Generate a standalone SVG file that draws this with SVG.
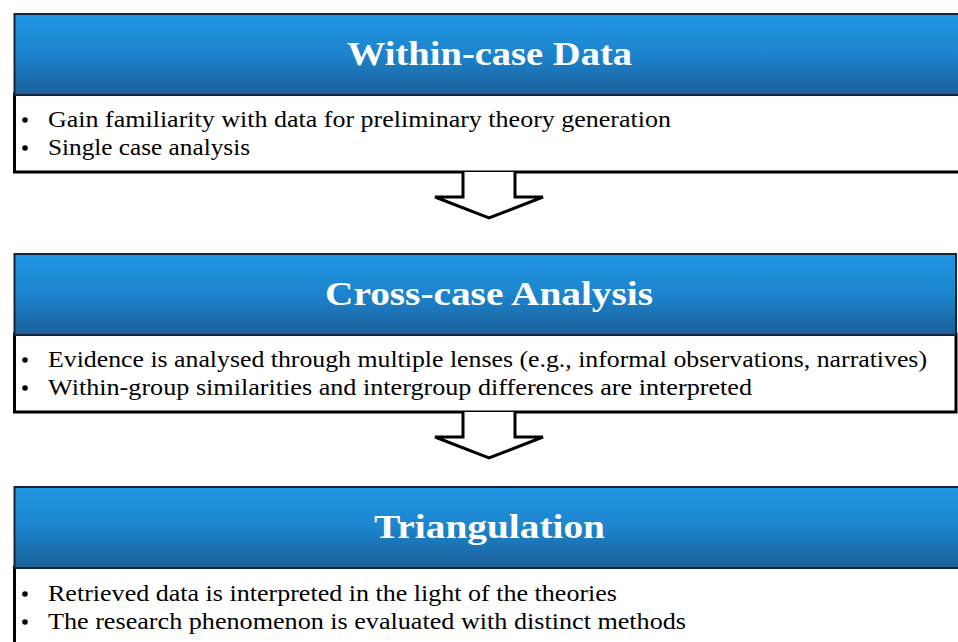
<svg xmlns="http://www.w3.org/2000/svg" width="958" height="642" viewBox="0 0 958 642">
<defs>
<linearGradient id="hdr" x1="0" y1="0" x2="0" y2="1">
<stop offset="0" stop-color="#2196e4"/>
<stop offset="0.5" stop-color="#1c84cc"/>
<stop offset="1" stop-color="#1a5f98"/>
</linearGradient>
<style>
.body{fill:#ffffff;stroke:#000000;stroke-width:3}
.head{fill:url(#hdr);stroke:#14243a;stroke-width:2}
.title{font-family:"Liberation Serif","DejaVu Serif",serif;font-weight:bold;font-size:33px;fill:#ffffff;text-anchor:middle}
.item{font-family:"Liberation Serif","DejaVu Serif",serif;font-size:22.5px;fill:#000000}
.bullet{fill:#000000}
.arrow{fill:#ffffff;stroke:#000000;stroke-width:3;stroke-linejoin:miter}
</style>
</defs>
<rect width="958" height="642" fill="#ffffff"/>
<g id="within-case-data">
<rect class="body" x="14.5" y="94" width="960" height="78"/>
<rect class="head" x="14.5" y="14" width="960" height="81"/>
<text class="title" x="489.5" y="65" textLength="285" lengthAdjust="spacingAndGlyphs">Within-case Data</text>
<circle class="bullet" cx="25" cy="120" r="2.8"/>
<text class="item" x="48" y="127" textLength="623" lengthAdjust="spacingAndGlyphs">Gain familiarity with data for preliminary theory generation</text>
<circle class="bullet" cx="25" cy="148" r="2.8"/>
<text class="item" x="48" y="155" textLength="202" lengthAdjust="spacingAndGlyphs">Single case analysis</text>
</g>
<g id="cross-case-analysis">
<rect class="body" x="14.5" y="334" width="941.5" height="78"/>
<rect class="head" x="14.5" y="254" width="941.5" height="81"/>
<text class="title" x="489" y="305" textLength="328" lengthAdjust="spacingAndGlyphs">Cross-case Analysis</text>
<circle class="bullet" cx="25" cy="360" r="2.8"/>
<text class="item" x="48" y="367" textLength="879" lengthAdjust="spacingAndGlyphs">Evidence is analysed through multiple lenses (e.g., informal observations, narratives)</text>
<circle class="bullet" cx="25" cy="388" r="2.8"/>
<text class="item" x="48" y="395" textLength="704" lengthAdjust="spacingAndGlyphs">Within-group similarities and intergroup differences are interpreted</text>
</g>
<g id="triangulation">
<rect class="body" x="14.5" y="567" width="960" height="100"/>
<rect class="head" x="14.5" y="487" width="960" height="81"/>
<text class="title" x="489.5" y="538" textLength="231" lengthAdjust="spacingAndGlyphs">Triangulation</text>
<circle class="bullet" cx="25" cy="594" r="2.8"/>
<text class="item" x="48" y="601" textLength="569" lengthAdjust="spacingAndGlyphs">Retrieved data is interpreted in the light of the theories</text>
<circle class="bullet" cx="25" cy="622" r="2.8"/>
<text class="item" x="48" y="629" textLength="638" lengthAdjust="spacingAndGlyphs">The research phenomenon is evaluated with distinct methods</text>
</g>
<g id="connectors">
<polyline class="arrow" points="463,172 463,197 435,197 489,218 543,197 515,197 515,172"/>
<polyline class="arrow" points="463,412 463,437 435,437 489,458 543,437 515,437 515,412"/>
</g>
</svg>
